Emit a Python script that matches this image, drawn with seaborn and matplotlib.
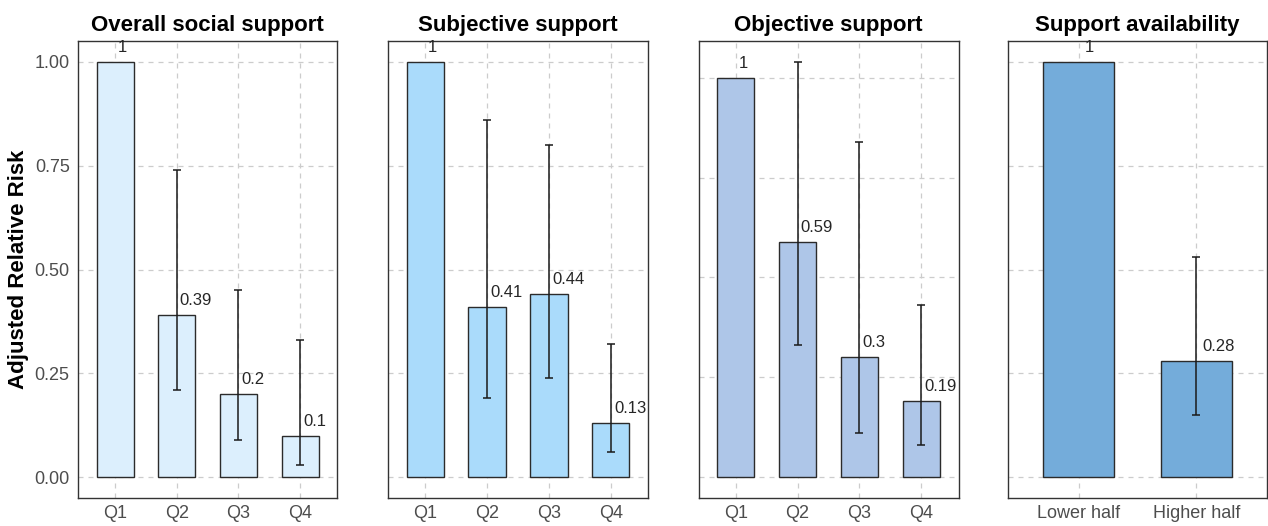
import numpy as np
import pandas as pd
import matplotlib
matplotlib.use("Agg")
import matplotlib.pyplot as plt
import seaborn as sns

# Adjusted relative risk by social-support level, with 95% CI (reference group has none)
titles = ["Overall social support", "Subjective support", "Objective support", "Support availability"]

quartiles = ["Q1", "Q2", "Q3", "Q4"]
halves = ["Lower half", "Higher half"]

overall_rr = [1.0, 0.39, 0.20, 0.10]
overall_lo = [np.nan, 0.21, 0.09, 0.03]
overall_hi = [np.nan, 0.74, 0.45, 0.33]

subjective_rr = [1.0, 0.41, 0.44, 0.13]
subjective_lo = [np.nan, 0.19, 0.24, 0.06]
subjective_hi = [np.nan, 0.86, 0.80, 0.32]

objective_rr = [1.0, 0.59, 0.30, 0.19]
objective_lo = [np.nan, 0.33, 0.11, 0.08]
objective_hi = [np.nan, 1.04, 0.84, 0.43]

availability_rr = [1.0, 0.28]
availability_lo = [np.nan, 0.15]
availability_hi = [np.nan, 0.53]

bar_colors = ["#DCEFFD", "#AADBFB", "#AEC6E8", "#74ACDA"]

panels = [
    (quartiles, overall_rr, overall_lo, overall_hi),
    (quartiles, subjective_rr, subjective_lo, subjective_hi),
    (quartiles, objective_rr, objective_lo, objective_hi),
    (halves, availability_rr, availability_lo, availability_hi),
]

sns.set_theme(style="white")
plt.rcParams["font.family"] = ["Liberation Sans", "DejaVu Sans"]

W, H = 1268, 526
fig = plt.figure(figsize=(W / 100, H / 100), dpi=100)

# panel rectangles in pixels: left, width
lefts = [78, 388, 698.5, 1008]
widths = [259, 260, 260, 259]
top_px, bottom_px = 41, 498

for i, (cats, rr, lo, hi) in enumerate(panels):
    ax = fig.add_axes([lefts[i] / W, (H - bottom_px) / H, widths[i] / W, (bottom_px - top_px) / H])
    df = pd.DataFrame({"group": cats, "rr": rr, "lo": lo, "hi": hi})
    n = len(cats)

    sns.barplot(data=df, x="group", y="rr", order=cats, color=bar_colors[i],
                saturation=1, width=0.6, edgecolor="#2B2B2B", linewidth=1.0, ax=ax)

    ax.set_axisbelow(True)
    ax.grid(True, which="major", axis="both", color="#CCCCCC",
            linestyle=(0, (4, 4)), linewidth=0.9)

    pos = np.arange(n)
    lo_arr = df["lo"].to_numpy()
    hi_arr = df["hi"].to_numpy()
    rr_arr = df["rr"].to_numpy()
    mask = ~np.isnan(lo_arr)
    ax.errorbar(pos[mask], rr_arr[mask],
                yerr=[rr_arr[mask] - lo_arr[mask], hi_arr[mask] - rr_arr[mask]],
                fmt="none", ecolor="#1A1A1A", elinewidth=1.1, capsize=3, capthick=1.1)

    for p, v in zip(pos, rr_arr):
        ax.annotate(f"{v:g}", xy=(p + 0.05, v), xytext=(0, 5), textcoords="offset points",
                    ha="left", va="bottom", fontsize=12, color="#262626", annotation_clip=False)

    ymax = np.nanmax(np.concatenate([rr_arr, hi_arr]))
    ax.set_ylim(-0.05 * ymax, ymax * 1.05)
    ax.set_xlim(-0.6, n - 0.4)
    ax.set_yticks([0, 0.25, 0.5, 0.75, 1.0])
    ax.set_xlabel("")

    if i == 0:
        ax.set_yticklabels(["0.00", "0.25", "0.50", "0.75", "1.00"])
        ax.set_ylabel("Adjusted Relative Risk", fontsize=16, fontweight="bold",
                      color="black", labelpad=4)
        ax.tick_params(axis="y", length=3, color="#D0D0D0", labelsize=13,
                       labelcolor="#4D4D4D", pad=3)
    else:
        ax.set_yticklabels([])
        ax.set_ylabel("")
        ax.tick_params(axis="y", length=4, color="#D8D8D8", width=0.8)

    ax.tick_params(axis="x", length=0, labelsize=13, labelcolor="#4D4D4D", pad=5)
    ax.set_title(titles[i], fontsize=16, fontweight="bold", color="black", pad=7)

    for s in ax.spines.values():
        s.set_visible(True)
        s.set_color("#333333")
        s.set_linewidth(1.0)

fig.savefig("out.png", dpi=100)
